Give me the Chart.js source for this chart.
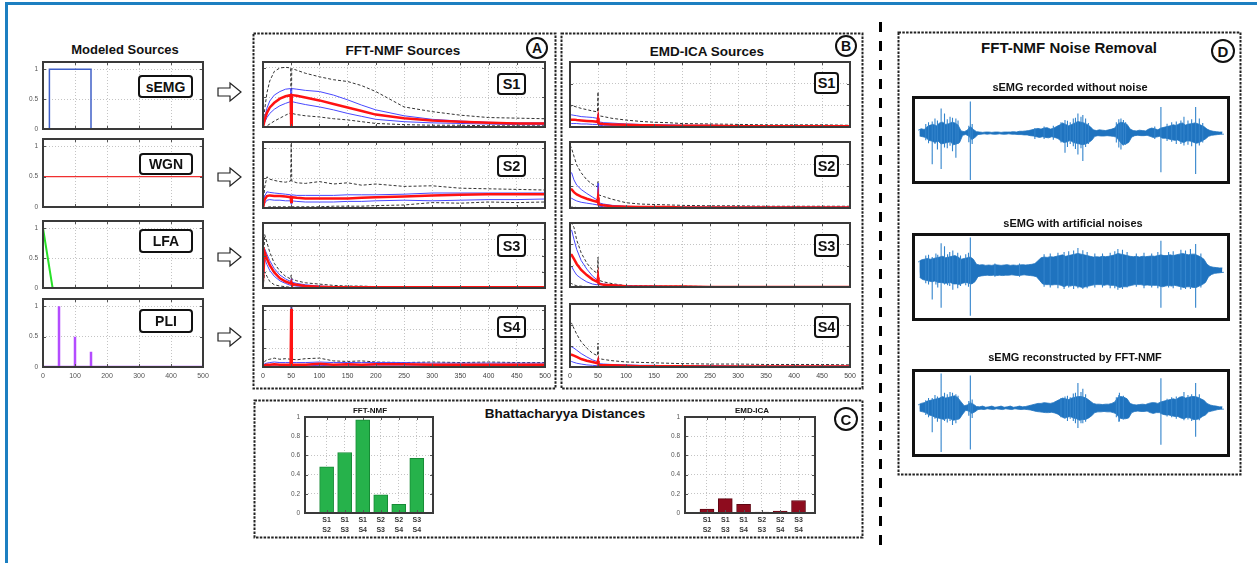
<!DOCTYPE html>
<html>
<head>
<meta charset="utf-8">
<script src="https://cdn.jsdelivr.net/npm/chart.js@4.4.1/dist/chart.umd.min.js"></script>
<style>
  body { margin: 0; background: #fff; }
  #page { position: relative; width: 1257px; height: 563px; overflow: hidden; background: #fff;
          font-family: Arial, "Liberation Sans", Helvetica, sans-serif; color: #111; }
  canvas { position: absolute; }
  .frame { position: absolute; left: 5px; top: 2px; width: 1400px; height: 700px;
           border-left: 3px solid #1c7fc1; border-top: 3px solid #1c7fc1; }
  .title { position: absolute; font-weight: bold; white-space: nowrap; transform: translate(-50%, -50%); z-index: 3; }
  .tag { position: absolute; box-sizing: border-box; border: 2.5px solid #111; border-radius: 4px; background: #fff;
         font-weight: bold; display: flex; align-items: center; justify-content: center; z-index: 3; }
  .circ { position: absolute; box-sizing: border-box; border: 2.5px solid #111; border-radius: 50%; font-weight: bold;
          display: flex; align-items: center; justify-content: center; transform: translate(-50%, -50%); z-index: 3; }
  .sig { position: absolute; box-sizing: border-box; border: 3px solid #111; }
</style>
</head>
<body>
<div id="page">
  <div class="frame"></div>
  <svg id="deco" width="1257" height="563" style="position:absolute;left:0;top:0">
    <g fill="none" stroke="#222" stroke-width="2" stroke-dasharray="2.5 1.3">
      <rect x="253.5" y="33.5" width="302" height="355"></rect>
      <rect x="561.5" y="33.5" width="301" height="355"></rect>
      <rect x="254.5" y="400.5" width="608" height="137"></rect>
      <rect x="898.5" y="32.5" width="342" height="442"></rect>
    </g>
    <line x1="880.5" y1="22" x2="880.5" y2="546" stroke="#000" stroke-width="3" stroke-dasharray="10 9"></line>
    <g fill="#fff" stroke="#222" stroke-width="1.2">
      <polygon points="218,88 230,88 230,83 241,92 230,101 230,96 218,96"></polygon>
      <polygon points="218,173 230,173 230,168 241,177 230,186 230,181 218,181"></polygon>
      <polygon points="218,253 230,253 230,248 241,257 230,266 230,261 218,261"></polygon>
      <polygon points="218,333 230,333 230,328 241,337 230,346 230,341 218,341"></polygon>
    </g>
  </svg>

  <div class="title" style="left:125px;top:49px;font-size:13px">Modeled Sources</div>
  <div class="title" style="left:403px;top:50px;font-size:13.5px">FFT-NMF Sources</div>
  <div class="title" style="left:707px;top:51px;font-size:13.5px">EMD-ICA Sources</div>
  <div class="title" style="left:565px;top:413px;font-size:13.5px">Bhattacharyya Distances</div>
  <div class="title" style="left:370px;top:410px;font-size:8px">FFT-NMF</div>
  <div class="title" style="left:752px;top:410px;font-size:8px">EMD-ICA</div>
  <div class="title" style="left:1069px;top:47px;font-size:15px">FFT-NMF Noise Removal</div>
  <div class="title" style="left:1070px;top:87px;font-size:11px">sEMG recorded without noise</div>
  <div class="title" style="left:1073px;top:223px;font-size:11px">sEMG with artificial noises</div>
  <div class="title" style="left:1075px;top:357px;font-size:11px">sEMG reconstructed by FFT-NMF</div>

  <div class="circ" style="left:537px;top:48px;width:22px;height:22px;font-size:14px">A</div>
  <div class="circ" style="left:846px;top:46px;width:22px;height:22px;font-size:14px">B</div>
  <div class="circ" style="left:846px;top:419px;width:24px;height:24px;font-size:15px">C</div>
  <div class="circ" style="left:1223px;top:51px;width:24px;height:24px;font-size:15px">D</div>

  <div class="tag" style="left:138px;top:75px;width:55px;height:23px;font-size:14px">sEMG</div>
  <div class="tag" style="left:139px;top:153px;width:54px;height:22px;font-size:14px">WGN</div>
  <div class="tag" style="left:139px;top:229px;width:54px;height:24px;font-size:14px">LFA</div>
  <div class="tag" style="left:139px;top:309px;width:54px;height:24px;font-size:14px">PLI</div>

  <div class="tag" style="left:497px;top:73px;width:29px;height:22px;font-size:14.5px">S1</div>
  <div class="tag" style="left:497px;top:155px;width:29px;height:22px;font-size:14.5px">S2</div>
  <div class="tag" style="left:497px;top:234px;width:29px;height:23px;font-size:14.5px">S3</div>
  <div class="tag" style="left:497px;top:316px;width:29px;height:22px;font-size:14.5px">S4</div>

  <div class="tag" style="left:814px;top:72px;width:25px;height:22px;font-size:14.5px">S1</div>
  <div class="tag" style="left:814px;top:155px;width:25px;height:22px;font-size:14.5px">S2</div>
  <div class="tag" style="left:814px;top:234px;width:25px;height:23px;font-size:14.5px">S3</div>
  <div class="tag" style="left:814px;top:316px;width:25px;height:22px;font-size:14.5px">S4</div>

  <div class="sig" style="left:912px;top:96px;width:318px;height:88px"></div>
  <div class="sig" style="left:912px;top:233px;width:318px;height:88px"></div>
  <div class="sig" style="left:912px;top:369px;width:318px;height:88px"></div>
</div>

<script>
// ---------- Modeled sources (frequency in Hz, normalised amplitude) ----------
const semgHz = [0, 20, 20, 150, 150, 500];
const semgAmp = [0, 0, 1, 1, 0, 0];
const wgnHz = [0, 500];
const wgnAmp = [0.5, 0.5];
const lfaHz = [0, 30, 500];
const lfaAmp = [1, 0, 0];
const pliHz = [0, 50, 50, 50, 100, 100, 100, 150, 150, 150, 500];
const pliAmp = [0, 0, 1, 0, 0, 0.5, 0, 0, 0.25, 0, 0];

// ---------- Estimated source spectra (amplitude in %) ----------
const freqHz = [0, 3, 7, 12, 20, 30, 40, 49, 50, 51, 60, 75, 100, 125, 150, 175, 200, 250, 300, 350, 400, 450, 500];

// FFT-NMF: mean, mean +/- std, max, min
const nmfS1Mean = [0, 12, 24, 33, 41, 48, 52, 54, 0, 54, 53, 50, 45, 39, 33, 27, 21, 15, 11, 9, 7, 6, 6];
const nmfS1Hi   = [0, 16, 32, 44, 54, 60, 64, 65, 0, 65, 64, 62, 60, 54, 46, 37, 29, 19, 13, 10, 8, 7, 7];
const nmfS1Lo   = [0, 8, 16, 23, 30, 36, 40, 43, 0, 43, 41, 38, 34, 29, 23, 18, 13, 9, 7, 6, 5, 4, 4];
const nmfS1Max  = [0, 30, 58, 78, 94, 100, 101, 100, 0, 99, 96, 91, 85, 80, 77, 70, 60, 34, 26, 20, 16, 15, 14];
const nmfS1Min  = [0, 0, 2, 5, 10, 15, 20, 24, 0, 23, 21, 19, 17, 14, 12, 9, 6, 4, 3, 3, 2, 2, 2];

const nmfS2Mean = [0, 14, 20, 21, 20, 20, 19, 18, 10, 18, 17, 16, 16, 16, 16, 17, 18, 19, 21, 22, 23, 23, 23];
const nmfS2Hi   = [0, 20, 27, 26, 25, 24, 23, 22, 14, 22, 21, 21, 21, 21, 22, 22, 22, 23, 25, 25, 25, 25, 25];
const nmfS2Lo   = [0, 8, 13, 14, 13, 13, 12, 12, 6, 12, 11, 10, 10, 10, 11, 11, 12, 13, 12, 13, 14, 14, 15];
const nmfS2Max  = [0, 35, 52, 48, 46, 44, 43, 45, 108, 45, 42, 41, 44, 40, 42, 38, 40, 36, 37, 33, 32, 31, 30];
const nmfS2Min  = [0, 0, 1, 2, 2, 2, 2, 2, 0, 2, 2, 2, 2, 3, 3, 3, 4, 5, 9, 8, 10, 9, 10];

const nmfS3Mean = [12, 55, 45, 35, 24, 15, 10, 7, 9, 6, 5, 3, 2, 1, 1, 1, 1, 1, 1, 1, 1, 1, 1];
const nmfS3Hi   = [15, 60, 52, 42, 30, 20, 14, 10, 14, 9, 7, 5, 3, 2, 2, 2, 1, 1, 1, 1, 1, 1, 1];
const nmfS3Lo   = [8, 45, 36, 27, 18, 11, 7, 4, 5, 4, 3, 2, 1, 1, 0, 0, 0, 0, 0, 0, 0, 0, 0];
const nmfS3Max  = [20, 82, 70, 55, 38, 26, 18, 14, 20, 14, 11, 8, 6, 4, 3, 3, 2, 2, 1, 1, 1, 1, 1];
const nmfS3Min  = [0, 25, 18, 10, 5, 3, 2, 1, 0, 1, 1, 0, 0, 0, 0, 0, 0, 0, 0, 0, 0, 0, 0];

const nmfS4Mean = [0, 3, 4, 4, 5, 4, 4, 4, 105, 4, 4, 4, 6, 4, 5, 4, 5, 5, 4, 4, 4, 4, 4];
const nmfS4Hi   = [0, 6, 7, 8, 9, 8, 8, 8, 110, 8, 8, 8, 9, 8, 8, 8, 8, 8, 7, 7, 7, 7, 7];
const nmfS4Lo   = [0, 1, 2, 2, 2, 2, 2, 2, 100, 2, 2, 2, 3, 2, 2, 2, 2, 2, 2, 2, 2, 2, 2];
const nmfS4Max  = [0, 10, 13, 14, 16, 14, 15, 14, 110, 14, 13, 15, 16, 11, 10, 11, 9, 8, 9, 8, 9, 8, 8];
const nmfS4Min  = [0, 0, 0, 0, 0, 0, 0, 0, 0, 0, 0, 0, 0, 0, 0, 0, 0, 0, 0, 0, 0, 0, 0];

// EMD-ICA: mean, mean +/- std, max, min
const icaS1Mean = [16, 17, 17, 16, 15, 14, 13, 12, 20, 8, 7, 6, 5, 4, 4, 3, 3, 3, 2, 2, 2, 2, 2];
const icaS1Hi   = [28, 28, 27, 26, 24, 23, 22, 20, 30, 12, 10, 9, 7, 6, 5, 5, 4, 4, 3, 3, 3, 3, 3];
const icaS1Lo   = [8, 8, 8, 8, 7, 7, 6, 6, 10, 4, 3, 3, 2, 2, 2, 1, 1, 1, 1, 1, 1, 1, 1];
const icaS1Max  = [45, 50, 48, 46, 43, 40, 37, 35, 81, 26, 24, 20, 16, 13, 11, 10, 8, 7, 6, 5, 5, 5, 4];
const icaS1Min  = [2, 1, 1, 1, 1, 1, 1, 1, 0, 1, 1, 0, 0, 0, 0, 0, 0, 0, 0, 0, 0, 0, 0];

const icaS2Mean = [42, 42, 36, 31, 26, 21, 17, 14, 24, 8, 6, 4, 3, 2, 2, 2, 1, 1, 1, 1, 1, 1, 1];
const icaS2Hi   = [80, 80, 64, 52, 42, 33, 25, 18, 56, 12, 9, 6, 4, 3, 3, 2, 2, 2, 2, 2, 2, 2, 2];
const icaS2Lo   = [22, 22, 19, 16, 13, 11, 9, 7, 12, 4, 3, 2, 1, 1, 1, 1, 1, 0, 0, 0, 0, 0, 0];
const icaS2Max  = [143, 135, 118, 98, 80, 64, 54, 48, 60, 30, 26, 20, 12, 9, 8, 7, 6, 5, 5, 4, 4, 4, 4];
const icaS2Min  = [3, 2, 2, 1, 1, 1, 1, 1, 0, 1, 0, 0, 0, 0, 0, 0, 0, 0, 0, 0, 0, 0, 0];

const icaS3Mean = [75, 75, 66, 54, 40, 28, 18, 12, 22, 8, 5, 4, 2, 1, 1, 1, 1, 0, 0, 0, 0, 0, 0];
const icaS3Hi   = [133, 133, 112, 88, 62, 42, 26, 16, 30, 10, 7, 5, 3, 2, 2, 1, 1, 1, 1, 1, 1, 1, 1];
const icaS3Lo   = [48, 48, 38, 28, 20, 12, 7, 5, 8, 2, 1, 1, 0, 0, 0, 0, 0, 0, 0, 0, 0, 0, 0];
const icaS3Max  = [149, 149, 140, 110, 80, 56, 40, 32, 70, 16, 12, 8, 3, 3, 2, 2, 2, 1, 1, 1, 1, 1, 1];
const icaS3Min  = [10, 8, 5, 3, 2, 1, 1, 0, 0, 0, 0, 0, 0, 0, 0, 0, 0, 0, 0, 0, 0, 0, 0];

const icaS4Mean = [29, 29, 27, 24, 19, 15, 12, 9, 14, 5, 4, 4, 3, 2, 2, 2, 2, 1, 1, 1, 1, 1, 1];
const icaS4Hi   = [48, 48, 45, 40, 32, 24, 17, 13, 20, 8, 7, 6, 5, 4, 4, 3, 3, 3, 2, 2, 2, 2, 2];
const icaS4Lo   = [13, 13, 11, 9, 7, 5, 4, 3, 5, 2, 1, 1, 1, 0, 0, 0, 0, 0, 0, 0, 0, 0, 0];
const icaS4Max  = [104, 104, 92, 78, 60, 45, 33, 27, 57, 20, 18, 15, 12, 11, 10, 9, 8, 7, 7, 6, 6, 6, 5];
const icaS4Min  = [2, 1, 1, 1, 1, 0, 0, 0, 0, 0, 0, 0, 0, 0, 0, 0, 0, 0, 0, 0, 0, 0, 0];

// ---------- Bhattacharyya distances between source pairs ----------
const pairLabels = [['S1', 'S2'], ['S1', 'S3'], ['S1', 'S4'], ['S2', 'S3'], ['S2', 'S4'], ['S3', 'S4']];
const nmfDistance = [0.48, 0.63, 0.97, 0.19, 0.09, 0.57];
const icaDistance = [0.04, 0.15, 0.09, 0.01, 0.02, 0.13];

// ---------- sEMG signals: core envelope per time bin (% of scale) and isolated spikes ----------
const cleanUp = [8,12,10,18,22,24,20,28,30,24, 26,30,28,22,6,4,8,18,10,4,
  3,2,3,3,2,3,3,2,3,3, 3,4,3,5,5,6,7,9,11,13,
  11,14,15,11,13,18,22,28,24,20, 24,28,32,30,28,24,18,9,7,9,
  8,7,9,11,14,26,30,28,24,11, 7,6,8,7,6,11,14,12,9,14,
  16,18,20,23,21,26,28,22,25,26, 28,26,22,18,11,7,5,4,3,3];
const cleanDown = [8,10,12,20,22,26,22,30,28,26, 24,32,30,26,6,4,8,18,12,4,
  3,2,3,2,3,3,2,3,3,2, 3,3,4,4,5,5,7,8,10,12,
  10,12,13,10,12,15,22,26,24,20, 26,28,30,32,30,26,20,9,7,8,
  8,7,8,9,11,22,32,30,26,11, 7,6,7,7,6,9,12,11,9,14,
  14,16,18,20,19,24,26,21,22,25, 28,26,21,16,9,6,5,4,3,3];
const cleanSpikeAt = [4.6, 7.5, 8.6, 12.3, 17, 47.8, 52, 53.6, 66, 79, 85.5, 90.3,
  2.5, 3.4, 5.5, 6.3, 9.5, 10.4, 11.2, 13, 16.5, 17.6, 38, 41, 44,
  46.5, 48.6, 49.5, 50.5, 51.2, 53, 54.5, 55.4, 64.5, 65.3, 66.8, 67.5, 77,
  81, 82.5, 84, 86.5, 87.8, 89, 91.5, 92.6];
const cleanSpikeTop = [32, 68, 54, 40, 87, 36, 54, 50, 40, 72, 35, 72,
  25, 30, 40, 35, 38, 45, 42, 35, 20, 25, 14, 18, 20,
  30, 34, 30, 40, 42, 45, 40, 28, 30, 38, 36, 30, 18,
  26, 30, 32, 45, 35, 38, 40, 28];
const cleanSpikeBottom = [86, 99, 40, 68, 129, 54, 59, 77, 45, 108, 30, 113,
  20, 28, 30, 45, 42, 35, 50, 30, 25, 30, 16, 16, 18,
  26, 38, 30, 36, 44, 42, 38, 30, 26, 40, 34, 32, 16,
  22, 24, 30, 34, 32, 36, 34, 26];

const noisyUp = [22,28,30,32,30,32,34,36,38,34, 36,38,40,36,30,32,34,36,30,16,
  14,15,13,14,13,15,14,13,14,15, 13,14,13,14,15,14,15,16,18,26,
  34,36,35,37,36,38,40,42,38,40, 42,44,46,44,42,40,38,36,37,36,
  38,37,38,40,42,46,44,42,40,38, 37,38,36,38,37,38,39,38,40,42,
  40,40,42,40,42,44,46,44,42,44, 44,40,36,30,16,10,8,7,6,6];
const noisyDown = [20,26,28,30,32,30,34,34,36,36, 34,38,38,40,36,34,36,38,32,18,
  16,15,14,15,14,15,14,15,14,14, 13,14,15,14,13,14,15,16,18,28,
  38,40,40,41,40,40,42,46,42,44, 42,44,46,48,46,44,42,40,40,40,
  42,40,42,42,44,48,46,46,44,42, 40,40,40,42,41,42,42,42,44,46,
  44,42,44,42,44,46,48,46,46,48, 48,44,40,34,18,12,9,8,7,6];
const noisySpikeAt = [4.6, 7.5, 8.6, 11.3, 12.9, 17, 52, 53.6, 65, 79, 90.3,
  2.5, 3.4, 5.8, 6.4, 9.6, 10.3, 13.8, 15.5, 16.4, 25, 33,
  41, 43, 45.5, 47.5, 49, 50.6, 55, 57.5, 60, 62.5, 64, 66.5, 68, 71, 73.5, 76, 78,
  81.5, 83, 85.5, 87, 88.6, 92];
const noisySpikeTop = [36, 74, 66, 54, 48, 90, 61, 55, 58, 81, 72,
  40, 42, 46, 42, 44, 50, 40, 44, 48, 18, 18,
  44, 46, 48, 50, 52, 54, 50, 46, 46, 48, 52, 56, 50, 46, 48, 46, 50,
  50, 52, 56, 54, 58, 46];
const noisySpikeBottom = [81, 104, 40, 54, 50, 126, 50, 52, 54, 104, 104,
  36, 40, 40, 48, 42, 44, 44, 42, 46, 18, 18,
  46, 48, 50, 52, 48, 52, 50, 48, 48, 50, 50, 52, 48, 46, 50, 48, 50,
  48, 50, 54, 52, 52, 48];

const reconUp = [8,12,14,18,20,22,24,26,30,26, 28,30,32,26,16,6,8,14,10,4,
  3,5,2,3,5,2,3,5,2,3, 5,2,3,5,3,4,6,8,10,12,
  12,14,13,12,14,18,22,26,24,22, 26,28,30,30,28,24,18,12,10,10,
  9,10,10,12,16,28,30,28,24,12, 9,8,9,10,9,12,14,14,12,16,
  18,20,22,24,22,28,30,26,28,30, 30,28,24,20,12,8,6,5,3,3];
const reconDown = [8,10,12,18,20,24,26,28,30,26, 28,32,30,28,16,6,8,14,10,4,
  3,4,2,3,4,2,3,4,2,3, 4,2,3,4,3,4,5,7,9,10,
  11,12,12,11,13,16,22,26,24,22, 26,28,32,30,30,26,20,12,10,10,
  9,10,10,12,15,26,28,28,26,12, 9,8,9,9,8,12,14,12,12,16,
  18,18,20,22,22,26,28,24,26,30, 30,28,22,18,10,8,6,4,3,3];
const reconSpikeAt = [4.6, 7.5, 8.6, 12.3, 17, 47.8, 52, 53.6, 65.5, 79, 90.3,
  2.5, 3.4, 5.5, 6.3, 9.5, 10.4, 11.2, 13, 16.5, 17.6,
  46.5, 48.6, 49.5, 50.5, 51.2, 53, 54.5, 64.5, 65.3, 66.8,
  81, 82.5, 84, 86.5, 87.8, 89, 91.5];
const reconSpikeTop = [26, 90, 40, 36, 85, 30, 65, 50, 40, 78, 65,
  20, 26, 34, 30, 36, 42, 40, 32, 18, 22,
  26, 32, 28, 38, 40, 42, 36, 28, 34, 32,
  24, 28, 30, 42, 34, 36, 36];
const reconSpikeBottom = [63, 115, 34, 40, 108, 28, 52, 40, 35, 96, 75,
  18, 24, 28, 36, 38, 34, 44, 30, 20, 26,
  24, 34, 28, 34, 40, 40, 36, 24, 36, 30,
  22, 24, 28, 32, 30, 34, 32];

// ---------- drawing helpers ----------
const FONT = 'Arial, "Liberation Sans", Helvetica, sans-serif';
Chart.defaults.font.family = FONT;
Chart.defaults.animation = false;
Chart.defaults.events = [];
Chart.defaults.plugins.legend.display = false;
Chart.defaults.plugins.tooltip.enabled = false;

// plain numeric tick text: 0, 0.5, 1 (no trailing zeros)
const plainTick = v => String(+Number(v).toFixed(2));

// MATLAB-like box: solid frame plus short inward tick marks on all four sides
const boxFrame = {
  id: 'boxFrame',
  afterDatasetsDraw(chart, args, o) {
    if (!o || !o.on) return;
    const { ctx, chartArea: a } = chart;
    const sx = chart.scales.x, sy = chart.scales.y;
    const L = o.len || 3;
    ctx.save();
    ctx.strokeStyle = o.tick || '#555';
    ctx.lineWidth = 1;
    ctx.beginPath();
    sx.ticks.forEach(t => {
      const p = Math.round(sx.getPixelForValue(t.value)) + 0.5;
      if (p < a.left + 2 || p > a.right - 2) return;
      ctx.moveTo(p, a.bottom); ctx.lineTo(p, a.bottom - L);
      ctx.moveTo(p, a.top); ctx.lineTo(p, a.top + L);
    });
    sy.ticks.forEach(t => {
      const p = Math.round(sy.getPixelForValue(t.value)) + 0.5;
      if (p < a.top + 2 || p > a.bottom - 2) return;
      ctx.moveTo(a.left, p); ctx.lineTo(a.left + L, p);
      ctx.moveTo(a.right, p); ctx.lineTo(a.right - L, p);
    });
    ctx.stroke();
    ctx.strokeStyle = o.color || '#3a3a3a';
    ctx.lineWidth = o.width || 2;
    ctx.strokeRect(a.left, a.top, a.width, a.height);
    ctx.restore();
  }
};
Chart.register(boxFrame);

const page = document.getElementById('page');

// box = [left, top, right, bottom] of the plot area; pad = [top, right, bottom, left]
function place(box, pad) {
  const c = document.createElement('canvas');
  const w = box[2] - box[0] + pad[1] + pad[3];
  const h = box[3] - box[1] + pad[0] + pad[2];
  c.width = w; c.height = h;
  c.style.left = (box[0] - pad[3]) + 'px';
  c.style.top = (box[1] - pad[0]) + 'px';
  c.style.width = w + 'px';
  c.style.height = h + 'px';
  page.insertBefore(c, document.querySelector('.title'));
  return c;
}

function pinAxes(opts, pad) {
  opts.layout = { padding: { top: pad[0], right: pad[1], bottom: 0, left: 0 } };
  opts.scales.x.afterFit = s => { s.height = pad[2]; s.paddingLeft = 0; s.paddingRight = 0; };
  opts.scales.y.afterFit = s => { s.width = pad[3]; s.paddingTop = 0; s.paddingBottom = 0; };
}

const dottedGrid = { color: '#c4c4c4', lineWidth: 1, drawTicks: false, offset: false };
const dottedBorder = { display: false, dash: [1, 2] };

function pts(xs, ys) { return xs.map((x, i) => ({ x, y: ys[i] })); }

function sourceChart(box, xs, ys, color, width, showX) {
  const pad = [3, 9, showX ? 15 : 3, 40];
  const opts = {
    responsive: false,
    plugins: { boxFrame: { on: true } },
    scales: {
      x: { type: 'linear', min: 0, max: 500,
           ticks: { display: showX, stepSize: 100, includeBounds: false, font: { size: 7 }, color: '#555', padding: 5, maxRotation: 0, autoSkip: false },
           grid: dottedGrid, border: dottedBorder },
      y: { type: 'linear', min: 0, max: 1.12,
           ticks: { stepSize: 0.5, includeBounds: false, font: { size: 6.5 }, color: '#555', padding: 5, callback: plainTick },
           grid: dottedGrid, border: dottedBorder }
    }
  };
  pinAxes(opts, pad);
  new Chart(place(box, pad), {
    type: 'line',
    data: { datasets: [{ data: pts(xs, ys), borderColor: color, borderWidth: width, pointRadius: 0, tension: 0, fill: false }] },
    options: opts
  });
}

function spectrumChart(box, ymax, step, s, showX) {
  const pad = [3, 9, showX ? 15 : 3, 4];
  const line = (ys, color, w, dash) => ({ data: pts(freqHz, ys), borderColor: color, borderWidth: w,
    borderDash: dash || [], pointRadius: 0, tension: 0, fill: false });
  const opts = {
    responsive: false,
    plugins: { boxFrame: { on: true } },
    scales: {
      x: { type: 'linear', min: 0, max: 500,
           ticks: { display: showX, stepSize: 50, includeBounds: false, font: { size: 7 }, color: '#444', padding: 5, maxRotation: 0, autoSkip: false },
           grid: dottedGrid, border: dottedBorder },
      y: { type: 'linear', min: 0, max: ymax,
           ticks: { display: false, stepSize: step, includeBounds: false },
           grid: dottedGrid, border: dottedBorder }
    }
  };
  pinAxes(opts, pad);
  new Chart(place(box, pad), {
    type: 'line',
    data: { datasets: [
      line(s[0], '#ff1212', 2.5),
      line(s[1], '#4848ff', 1),
      line(s[2], '#4848ff', 1),
      line(s[3], '#333', 1, [3, 2]),
      line(s[4], '#333', 1, [3, 2])
    ] },
    options: opts
  });
}

function distanceChart(box, values, fillColor, edgeColor) {
  const pad = [3, 5, 28, 24];
  const opts = {
    responsive: false,
    plugins: { boxFrame: { on: true, width: 2 } },
    scales: {
      x: { type: 'linear', min: -0.2, max: 6.9, offset: false,
           afterBuildTicks: s => { s.ticks = pairLabels.map((_, i) => ({ value: i + 1 })); },
           ticks: { callback: v => pairLabels[v - 1] || '', font: { size: 7, weight: 'bold', lineHeight: 1.3 }, color: '#333', padding: 3, maxRotation: 0, autoSkip: false },
           grid: dottedGrid, border: dottedBorder },
      y: { type: 'linear', min: 0, max: 1,
           ticks: { stepSize: 0.2, font: { size: 6.5 }, color: '#555', padding: 5, callback: plainTick },
           grid: dottedGrid, border: dottedBorder }
    }
  };
  pinAxes(opts, pad);
  new Chart(place(box, pad), {
    type: 'bar',
    data: { datasets: [{ data: pts(pairLabels.map((_, i) => i + 1), values), backgroundColor: fillColor,
      borderColor: edgeColor, borderWidth: 1, barThickness: 14 }] },
    options: opts
  });
}

// waveform: filled band between the per-bin excursions, plus thin vertical spikes
function signalChart(box, up, down, spikeAt, spikeTop, spikeBottom, yMin, yMax) {
  const xs = up.map((_, i) => i);
  const upper = pts(xs, up);
  const lower = pts(xs.map(x => x + 0.5), down.map(d => -d));
  const spikes = [];
  spikeAt.forEach((x, i) => {
    spikes.push({ x, y: spikeTop[i] }, { x, y: -spikeBottom[i] }, { x, y: null });
  });
  const blue = '#1f73bf';
  new Chart(place(box, [0, 0, 0, 0]), {
    type: 'line',
    data: { datasets: [
      { data: spikes, borderColor: '#3384cc', borderWidth: 1.1, pointRadius: 0, tension: 0, fill: false, spanGaps: false },
      { data: upper, borderColor: blue, backgroundColor: blue, borderWidth: 0.8, pointRadius: 0, tension: 0, fill: '+1' },
      { data: lower, borderColor: blue, borderWidth: 0.8, pointRadius: 0, tension: 0, fill: false }
    ] },
    options: {
      responsive: false,
      layout: { padding: 0 },
      scales: { x: { type: 'linear', display: false, min: -1, max: 100.5 },
                y: { type: 'linear', display: false, min: yMin, max: yMax } }
    }
  });
}

// ---------- Modeled sources ----------
sourceChart([43, 62, 203, 129], semgHz, semgAmp, '#4060c8', 1.5, false);
sourceChart([43, 139, 203, 207], wgnHz, wgnAmp, '#f03030', 1.2, false);
sourceChart([43, 221, 203, 288], lfaHz, lfaAmp, '#28e028', 2, false);
sourceChart([43, 299, 203, 367], pliHz, pliAmp, '#b44cff', 2.5, true);

// ---------- FFT-NMF sources ----------
spectrumChart([263, 62, 545, 127], 110, 50, [nmfS1Mean, nmfS1Hi, nmfS1Lo, nmfS1Max, nmfS1Min], false);
spectrumChart([263, 142, 545, 208], 110, 50, [nmfS2Mean, nmfS2Hi, nmfS2Lo, nmfS2Max, nmfS2Min], false);
spectrumChart([263, 223, 545, 288], 100, 25, [nmfS3Mean, nmfS3Hi, nmfS3Lo, nmfS3Max, nmfS3Min], false);
spectrumChart([263, 306, 545, 367], 110, 34, [nmfS4Mean, nmfS4Hi, nmfS4Lo, nmfS4Max, nmfS4Min], true);

// ---------- EMD-ICA sources ----------
spectrumChart([570, 62, 850, 127], 150, 50, [icaS1Mean, icaS1Hi, icaS1Lo, icaS1Max, icaS1Min], false);
spectrumChart([570, 142, 850, 208], 150, 50, [icaS2Mean, icaS2Hi, icaS2Lo, icaS2Max, icaS2Min], false);
spectrumChart([570, 223, 850, 287], 150, 50, [icaS3Mean, icaS3Hi, icaS3Lo, icaS3Max, icaS3Min], false);
spectrumChart([570, 304, 850, 367], 150, 50, [icaS4Mean, icaS4Hi, icaS4Lo, icaS4Max, icaS4Min], true);

// ---------- Bhattacharyya distances ----------
distanceChart([305, 417, 433, 513], nmfDistance, '#26b24b', '#178a36');
distanceChart([685, 417, 815, 513], icaDistance, '#8e0c1e', '#5e0612');

// ---------- Noise removal signals ----------
signalChart([915, 99, 1227, 181], cleanUp, cleanDown, cleanSpikeAt, cleanSpikeTop, cleanSpikeBottom, -132, 94);
signalChart([915, 236, 1227, 318], noisyUp, noisyDown, noisySpikeAt, noisySpikeTop, noisySpikeBottom, -132, 94);
signalChart([915, 372, 1227, 454], reconUp, reconDown, reconSpikeAt, reconSpikeTop, reconSpikeBottom, -120, 94);
</script>
</body>
</html>
